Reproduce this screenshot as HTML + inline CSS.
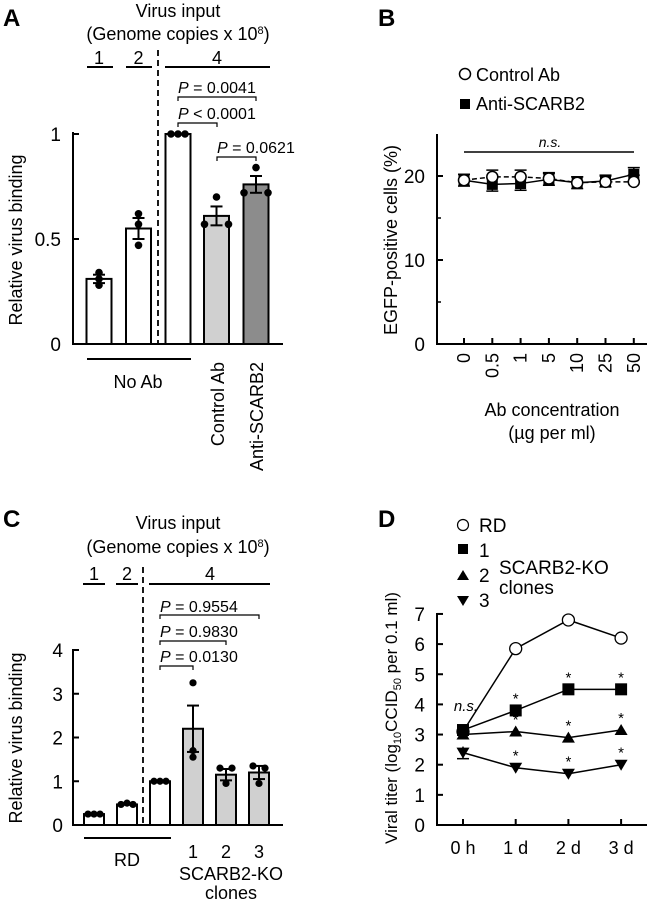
<!DOCTYPE html>
<html><head><meta charset="utf-8"><style>
html,body{margin:0;padding:0;background:#fff;}
svg{display:block;font-family:"Liberation Sans",Arial,sans-serif;}
text{white-space:pre;}
</style></head><body>
<svg id="fig" width="650" height="900" viewBox="0 0 650 900"></svg>
<script>
// Panel A data
const aCats = ["1","2","4","Control Ab","Anti-SCARB2"];
const aVals = [0.31, 0.55, 1.0, 0.61, 0.76];
const aErr = [0.02, 0.05, 0, 0.045, 0.04];
const aPts = [[0.34,0.31,0.28],[0.62,0.57,0.47],[1,1,1],[0.70,0.57,0.57],[0.84,0.72,0.72]];
const aTicks = [0, 0.5, 1];
const aTickLabels = ["0","0.5","1"];
// Panel B data
const bCats = ["0","0.5","1","5","10","25","50"];
const bCtrl = [19.5, 19.9, 19.9, 19.7, 19.2, 19.3, 19.3];
const bAnti = [19.5, 19.0, 19.1, 19.6, 19.2, 19.4, 20.2];
const bErr = [0.7, 0.8, 0.8, 0.7, 0.7, 0.7, 0.8];
const bTicks = [0, 10, 20];
// Panel C data
const cCats = ["1","2","4","1","2","3"];
const cVals = [0.25, 0.47, 1.0, 2.2, 1.15, 1.2];
const cErr = [0, 0.02, 0, 0.53, 0.13, 0.15];
const cPts = [[0.25,0.25,0.25],[0.47,0.5,0.47],[1,1,1],[3.25,1.7,1.55],[1.3,1.3,0.95],[1.35,1.3,0.95]];
const cTicks = [0,1,2,3,4];
// Panel D data
const dCats = ["0 h","1 d","2 d","3 d"];
const dRD = [3.1, 5.85, 6.8, 6.2];
const dKO1 = [3.15, 3.8, 4.5, 4.5];
const dKO2 = [3.0, 3.1, 2.9, 3.15];
const dKO3 = [2.4, 1.9, 1.7, 2.0];
const dTicks = [0,1,2,3,4,5,6,7];

const NS="http://www.w3.org/2000/svg";
const svg=document.getElementById('fig');
function el(tag,attrs,parent,txt){const e=document.createElementNS(NS,tag);for(const k in attrs)e.setAttribute(k,attrs[k]);if(txt!==undefined)e.textContent=txt;(parent||svg).appendChild(e);return e;}
function line(x1,y1,x2,y2,p,extra){const a={x1,y1,x2,y2,stroke:"#000","stroke-width":2};Object.assign(a,extra||{});return el("line",a,p);}
function text(x,y,s,size,p,extra){const a={x,y,"font-size":size,fill:"#000"};Object.assign(a,extra||{});return el("text",a,p,s);}
function grp(name){const g=el("g",{},svg);return g;}
function bracket(g,x1,x2,y,label,ty){
  el("path",{d:`M${x1},${y+4}V${y}H${x2}V${y+4}`,fill:"none",stroke:"#000","stroke-width":1.2},g);
  const t=el("text",{x:x1,y:ty,"font-size":16,fill:"#000"},g);
  
  el("tspan",{"font-style":"italic"},t,"P");el("tspan",{},t,label);
}

// ===== Panel A =====
(function(){
  const g=grp('panel-a');
  const yA=v=>344-210*v;
  const xA=i=>[99,138.5,178,216.5,256][i];
  const fills=["#fff","#fff","#fff","#d0d0d0","#8c8c8c"];
  text(3,26,"A",24,g,{"font-weight":"bold"});
  text(178,17,"Virus input",18,g,{"text-anchor":"middle"});
  const t=text(178,40,"(Genome copies x 10",18,g,{"text-anchor":"middle"});el("tspan",{"baseline-shift":"super","font-size":11},t,"8");el("tspan",{},t,")");
  text(99,64,"1",18,g,{"text-anchor":"middle"});text(138.5,64,"2",18,g,{"text-anchor":"middle"});text(217,64,"4",18,g,{"text-anchor":"middle"});
  line(87,67,113,67,g);line(126,67,152,67,g);line(165,67,270,67,g);
  line(158,50,158,344,g,{"stroke-dasharray":"6,4","stroke-width":1.8});
  aVals.forEach((v,i)=>{
    const r=el("rect",{x:xA(i)-12.5,y:yA(v),width:25,height:yA(0)-yA(v),fill:fills[i],stroke:"#000","stroke-width":2},g);
    
    if(aErr[i]>0){line(xA(i),yA(v-aErr[i]),xA(i),yA(v+aErr[i]),g);line(xA(i)-6,yA(v+aErr[i]),xA(i)+6,yA(v+aErr[i]),g);line(xA(i)-6,yA(v-aErr[i]),xA(i)+6,yA(v-aErr[i]),g);}
    const same=aPts[i][0]===aPts[i][1]&&aPts[i][1]===aPts[i][2];
    const offs=same?[-7,0,7]:(i<2?[0,0,0]:[0,-12,12]);
    aPts[i].forEach((p,j)=>el("circle",{cx:xA(i)+offs[j],cy:yA(p),r:3.8,fill:"#000"},g));
  });
  line(73,132,73,344,g);line(72,344,283,344,g);
  aTicks.forEach((v,i)=>{line(73,yA(v),79,yA(v),g);text(61,yA(v)+7,aTickLabels[i],19,g,{"text-anchor":"end"});});
  const yt=text(0,0,"Relative virus binding",18,g,{"text-anchor":"middle",transform:"translate(22,240) rotate(-90)"});
  
  bracket(g,178,256,97,"\u00a0= 0.0041",93);
  bracket(g,178,217,123,"\u00a0< 0.0001",119);
  bracket(g,217,256,157,"\u00a0= 0.0621",153);
  line(87,359,191,359,g);text(138,388,"No Ab",18,g,{"text-anchor":"middle"});
  text(0,0,"Control Ab",18,g,{"text-anchor":"end",transform:"translate(224,362) rotate(-90)"});
  text(0,0,"Anti-SCARB2",18,g,{"text-anchor":"end",transform:"translate(263,362) rotate(-90)"});
})();

// ===== Panel B =====
(function(){
  const g=grp('panel-b');
  const yB=v=>344-8.4*v;
  const xB=i=>464+28.3*i;
  text(378,26,"B",24,g,{"font-weight":"bold"});
  el("circle",{cx:465,cy:74,r:5.5,fill:"#fff",stroke:"#000","stroke-width":1.5},g);
  text(476,81,"Control Ab",18,g);
  el("rect",{x:460,y:99,width:10,height:10,fill:"#000"},g);
  text(476,110,"Anti-SCARB2",18,g);
  line(437,134,437,344,g);line(436,344,647,344,g);
  bTicks.forEach(v=>{line(437,yB(v),443,yB(v),g);text(425,yB(v)+7,String(v),19,g,{"text-anchor":"end"});});
  [5,15].forEach(v=>line(437,yB(v),441,yB(v),g,{"stroke-width":1.5}));
  bCats.forEach((c,i)=>{line(xB(i),344,xB(i),338,g);text(0,0,c,18,g,{"text-anchor":"end",transform:`translate(${xB(i)+6},${353}) rotate(-90)`});});
  text(552,416,"Ab concentration",18,g,{"text-anchor":"middle"});
  text(552,439,"(µg per ml)",18,g,{"text-anchor":"middle"});
  text(0,0,"EGFP-positive cells (%)",18,g,{"text-anchor":"middle",transform:"translate(397,240) rotate(-90)"});
  line(464,152,634,152,g,{"stroke-width":1.5});text(550,147,"n.s.",14,g,{"text-anchor":"middle","font-style":"italic"});
  el("polyline",{points:bAnti.map((v,i)=>xB(i)+","+yB(v)).join(" "),fill:"none",stroke:"#000","stroke-width":1.5},g);
  el("polyline",{points:bCtrl.map((v,i)=>xB(i)+","+yB(v)).join(" "),fill:"none",stroke:"#000","stroke-width":1.5,"stroke-dasharray":"5,3"},g);
  bAnti.forEach((v,i)=>{const x=xB(i);line(x,yB(v-bErr[i]),x,yB(v+bErr[i]),g,{"stroke-width":1.5});line(x-6,yB(v-bErr[i]),x+6,yB(v-bErr[i]),g,{"stroke-width":1.5});line(x-6,yB(v+bErr[i]),x+6,yB(v+bErr[i]),g,{"stroke-width":1.5});
    const r=el("rect",{x:x-5.5,y:yB(v)-5.5,width:11,height:11,fill:"#000"},g);});
  bCtrl.forEach((v,i)=>{const x=xB(i);line(x-6,yB(v+bErr[i]),x+6,yB(v+bErr[i]),g,{"stroke-width":1.5});
    const c=el("circle",{cx:x,cy:yB(v),r:5.5,fill:"#fff",stroke:"#000","stroke-width":1.5},g);});
})();

// ===== Panel C =====
(function(){
  const g=grp('panel-c');
  const yC=v=>825-43.75*v;
  const xC=i=>[94,127,160,193,226,259][i];
  const fills=["#fff","#fff","#fff","#d0d0d0","#d0d0d0","#d0d0d0"];
  text(3,527,"C",24,g,{"font-weight":"bold"});
  text(178,529,"Virus input",18,g,{"text-anchor":"middle"});
  const t=text(178,553,"(Genome copies x 10",18,g,{"text-anchor":"middle"});el("tspan",{"baseline-shift":"super","font-size":11},t,"8");el("tspan",{},t,")");
  text(94,580,"1",18,g,{"text-anchor":"middle"});text(127,580,"2",18,g,{"text-anchor":"middle"});text(210,580,"4",18,g,{"text-anchor":"middle"});
  line(83,584,105,584,g);line(116,584,138,584,g);line(149,584,270,584,g);
  line(143,567,143,825,g,{"stroke-dasharray":"6,4","stroke-width":1.8});
  cVals.forEach((v,i)=>{
    const r=el("rect",{x:xC(i)-10,y:yC(v),width:20,height:yC(0)-yC(v),fill:fills[i],stroke:"#000","stroke-width":2},g);
    
    if(cErr[i]>0.05){const x=xC(i);line(x,yC(v-cErr[i]),x,yC(v+cErr[i]),g);line(x-6,yC(v+cErr[i]),x+6,yC(v+cErr[i]),g);line(x-6,yC(v-cErr[i]),x+6,yC(v-cErr[i]),g);}
    const offs=i<3?[-6,0,6]:(i===3?[0,0,0]:[-6,6,0]);
    cPts[i].forEach((p,j)=>el("circle",{cx:xC(i)+offs[j],cy:yC(p),r:3.6,fill:"#000"},g));
  });
  line(73,649,73,825,g);line(72,825,283,825,g);
  cTicks.forEach(v=>{line(73,yC(v),79,yC(v),g);text(63,yC(v)+7,String(v),19,g,{"text-anchor":"end"});});
  text(0,0,"Relative virus binding",18,g,{"text-anchor":"middle",transform:"translate(22,738) rotate(-90)"});
  bracket(g,160,259,615,"\u00a0= 0.9554",612);
  bracket(g,160,226,641,"\u00a0= 0.9830",637);
  bracket(g,160,193,666,"\u00a0= 0.0130",662);
  line(84,838,171,838,g);text(127,866,"RD",18,g,{"text-anchor":"middle"});
  [3,4,5].forEach(i=>text(xC(i),858,cCats[i],18,g,{"text-anchor":"middle"}));
  text(231,880,"SCARB2-KO",18,g,{"text-anchor":"middle"});
  text(231,899,"clones",18,g,{"text-anchor":"middle"});
})();

// ===== Panel D =====
(function(){
  const g=grp('panel-d');
  const yD=v=>825-30.15*v;
  const xD=i=>463+52.7*i;
  text(378,527,"D",24,g,{"font-weight":"bold"});
  el("circle",{cx:463,cy:525,r:5.5,fill:"#fff",stroke:"#000","stroke-width":1.2},g);text(479,532,"RD",19,g);
  el("rect",{x:458,y:544,width:10,height:10,fill:"#000"},g);text(479,557,"1",19,g);
  el("path",{d:"M457,580L463,570L469,580Z",fill:"#000"},g);text(479,582,"2",19,g);
  el("path",{d:"M457,596L463,606L469,596Z",fill:"#000"},g);text(479,607,"3",19,g);
  text(499,574,"SCARB2-KO",19,g);text(499,594,"clones",19,g);
  line(437,613,437,825,g);line(436,825,647,825,g);
  dTicks.forEach(v=>{line(437,yD(v),443,yD(v),g);text(425,yD(v)+7,String(v),19,g,{"text-anchor":"end"});});
  dCats.forEach((c,i)=>{line(xD(i),825,xD(i),819,g);text(xD(i),854,c,18,g,{"text-anchor":"middle"});});
  const yt=text(0,0,"",17,g,{"text-anchor":"middle",transform:"translate(397,718) rotate(-90)"});
  el("tspan",{},yt,"Viral titer (log");el("tspan",{"font-size":11,dy:4},yt,"10");el("tspan",{dy:-4},yt,"CCID");el("tspan",{"font-size":11,dy:4},yt,"50");el("tspan",{dy:-4},yt," per 0.1 ml)");
  text(466,711,"n.s.",15,g,{"text-anchor":"middle","font-style":"italic"});
  line(xD(0),yD(dKO3[0]-0.2),xD(0),yD(dKO3[0]+0.2),g,{"stroke-width":1.5});line(xD(0)-6,yD(dKO3[0]-0.2),xD(0)+6,yD(dKO3[0]-0.2),g,{"stroke-width":1.5});
  const series=[[dRD,"circle","series-rd"],[dKO1,"square","series-ko1"],[dKO2,"tri","series-ko2"],[dKO3,"dtri","series-ko3"]];
  series.forEach(([arr,m,name])=>{
    const pl=el("polyline",{points:arr.map((v,i)=>xD(i)+","+yD(v)).join(" "),fill:"none",stroke:"#000","stroke-width":1.5},g);
    
  });
  series.forEach(([arr,m])=>{
    arr.forEach((v,i)=>{const x=xD(i),y=yD(v);
      if(m==="circle")el("circle",{cx:x,cy:y,r:6,fill:"#fff",stroke:"#000","stroke-width":1.3},g);
      else if(m==="square")el("rect",{x:x-6,y:y-6,width:12,height:12,fill:"#000"},g);
      else if(m==="tri")el("path",{d:`M${x-6.5},${y+5}L${x},${y-6}L${x+6.5},${y+5}Z`,fill:"#000"},g);
      else el("path",{d:`M${x-6.5},${y-5}L${x},${y+6}L${x+6.5},${y-5}Z`,fill:"#000"},g);
      if(m!=="circle"&&i>0)text(x,y-7,"*",15,g,{"text-anchor":"middle"});
    });
  });
})();
</script>
</body></html>
